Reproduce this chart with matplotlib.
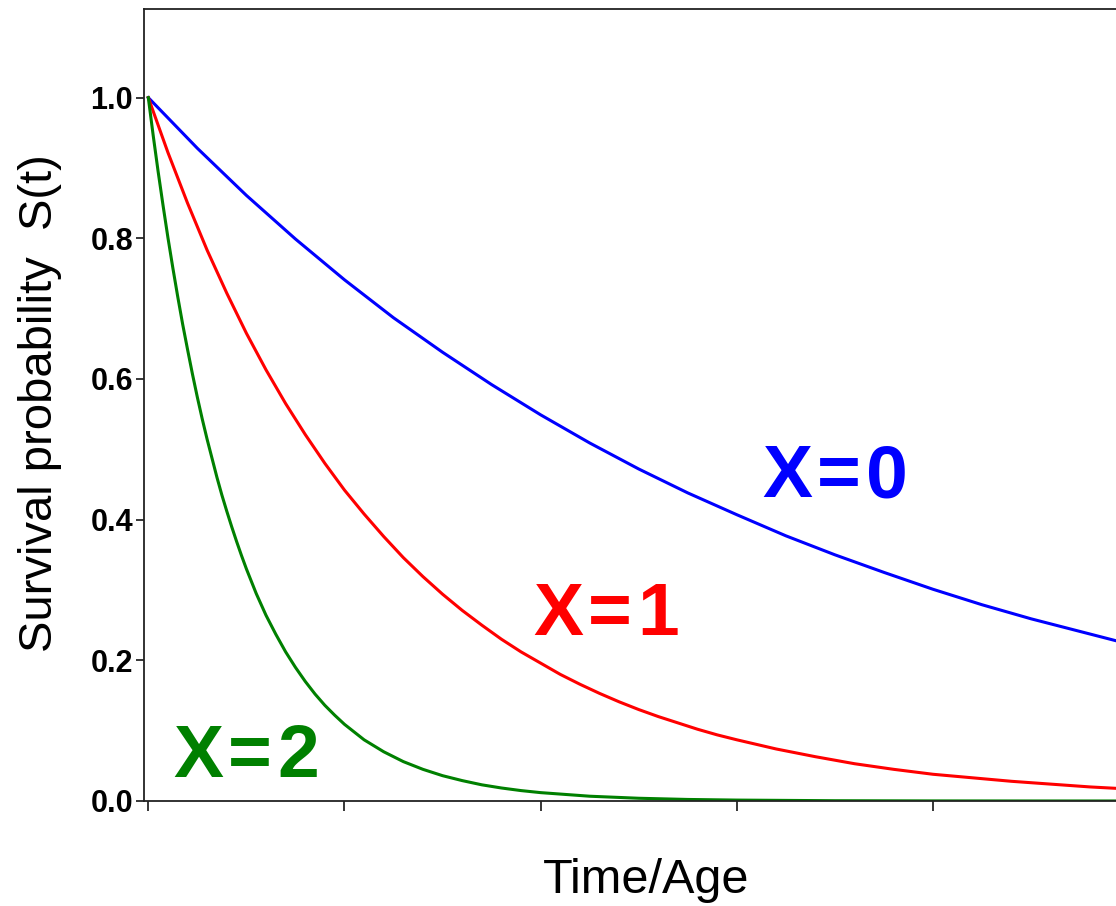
import matplotlib
matplotlib.use("Agg")
import matplotlib.pyplot as plt
from matplotlib import font_manager as fm
from matplotlib.transforms import IdentityTransform

# ---- data ----
t_blue = [0.0, 0.25, 0.5, 0.75, 1.0, 1.25, 1.5, 1.75, 2.0, 2.25, 2.5, 2.75,
          3.0, 3.25, 3.5, 3.75, 4.0, 4.25, 4.5, 4.75, 5.0, 5.25]
s_blue = [1.000, 0.928, 0.861, 0.799, 0.741, 0.687, 0.638, 0.592, 0.549, 0.509,
          0.472, 0.438, 0.407, 0.377, 0.350, 0.325, 0.301, 0.279, 0.259, 0.241,
          0.223, 0.207]

t_red = [0.0, 0.1, 0.2, 0.3, 0.4, 0.5, 0.6, 0.7, 0.8, 0.9, 1.0, 1.1, 1.2, 1.3,
         1.4, 1.5, 1.6, 1.7, 1.8, 1.9, 2.0, 2.1, 2.2, 2.3, 2.4, 2.5, 2.6, 2.7,
         2.8, 2.9, 3.0, 3.2, 3.4, 3.6, 3.8, 4.0, 4.2, 4.4, 4.6, 4.8, 5.0, 5.2]
s_red = [1.000, 0.922, 0.850, 0.783, 0.722, 0.665, 0.613, 0.565, 0.521, 0.480,
         0.442, 0.408, 0.376, 0.346, 0.319, 0.294, 0.271, 0.250, 0.230, 0.212,
         0.196, 0.180, 0.166, 0.153, 0.141, 0.130, 0.120, 0.111, 0.102, 0.094,
         0.087, 0.074, 0.063, 0.053, 0.045, 0.038, 0.033, 0.028, 0.024, 0.020,
         0.017, 0.014]

t_green = [0.0, 0.025, 0.05, 0.075, 0.1, 0.125, 0.15, 0.175, 0.2, 0.225, 0.25,
           0.275, 0.3, 0.325, 0.35, 0.375, 0.4, 0.425, 0.45, 0.475, 0.5, 0.55,
           0.6, 0.65, 0.7, 0.75, 0.8, 0.85, 0.9, 0.95, 1.0, 1.1, 1.2, 1.3, 1.4,
           1.5, 1.6, 1.7, 1.8, 1.9, 2.0, 2.25, 2.5, 2.75, 3.0, 3.5, 4.0, 4.5,
           5.0, 5.5]
s_green = [1.000, 0.946, 0.895, 0.847, 0.801, 0.758, 0.717, 0.678, 0.642, 0.607,
           0.574, 0.543, 0.514, 0.487, 0.460, 0.435, 0.412, 0.390, 0.369, 0.349,
           0.330, 0.295, 0.264, 0.237, 0.212, 0.190, 0.170, 0.152, 0.136, 0.122,
           0.109, 0.087, 0.070, 0.056, 0.045, 0.036, 0.029, 0.023, 0.0185,
           0.0148, 0.0119, 0.0068, 0.0039, 0.0022, 0.0013, 0.0004, 0.00014,
           0.00005, 0.00002, 0.0]

labels = ["X=0", "X=1", "X=2"]
colors = ["#0000ff", "#ff0000", "#008000"]
label_pos = [(3.128, 0.432), (1.961, 0.236), (0.126, 0.034)]

y_ticks = [0.0, 0.2, 0.4, 0.6, 0.8, 1.0]
y_ticklabels = ["0.0", "0.2", "0.4", "0.6", "0.8", "1.0"]
x_ticks = [0, 1, 2, 3, 4, 5]

plt.rcParams['font.family'] = ['Liberation Sans', 'DejaVu Sans']


def has_font(name):
    try:
        fm.findfont(fm.FontProperties(family=name), fallback_to_default=False)
        return True
    except Exception:
        return False


if has_font('Liberation Sans Narrow'):
    lab_family, lab_size, lab_gap = ['Liberation Sans Narrow'], 57, 8
else:
    lab_family, lab_size, lab_gap = ['Liberation Sans'], 54, 5

W, H = 1116, 906
fig = plt.figure(figsize=(W / 100, H / 100), dpi=100)
left_px, right_px, top_px, bottom_px = 143.5, 1140.0, 9.0, 801.0
ax = fig.add_axes([left_px / W, (H - bottom_px) / H,
                   (right_px - left_px) / W, (bottom_px - top_px) / H])

ax.plot(t_blue, s_blue, color=colors[0], lw=2.2)
ax.plot(t_red, s_red, color=colors[1], lw=2.2)
ax.plot(t_green, s_green, color=colors[2], lw=2.2)

ax.set_xlim(-0.0245, 5.055)
ax.set_ylim(0.0, 1.126)
ax.set_xticks(x_ticks)
ax.set_xticklabels([])
ax.set_yticks(y_ticks)
ax.set_yticklabels(y_ticklabels, fontweight='bold')
ax.tick_params(axis='y', direction='out', length=6, width=1.1, pad=1.5,
               labelsize=22, colors='black')
ax.tick_params(axis='x', direction='out', length=7, width=1.1)
for s in ax.spines.values():
    s.set_linewidth(1.3)
    s.set_color('#222222')

# curve labels, drawn with a little extra letter spacing
renderer = fig.canvas.get_renderer()
for lab, col, (lx, ly) in zip(labels, colors, label_pos):
    x0, y0 = ax.transData.transform((lx, ly))
    for ch in lab:
        txt = fig.text(x0, y0, ch, color=col, fontsize=lab_size,
                       fontweight='bold', family=lab_family,
                       ha='left', va='baseline', transform=IdentityTransform())
        bb = txt.get_window_extent(renderer)
        x0 = bb.x1 + lab_gap

fig.text(40 / W, (H - 403) / H, "Survival probability  S(t)", rotation=90,
         ha='center', va='center', fontsize=34)
fig.text(646 / W, (H - 893) / H, "Time/Age", ha='center', va='baseline',
         fontsize=35)

fig.savefig("out.png", dpi=100)
